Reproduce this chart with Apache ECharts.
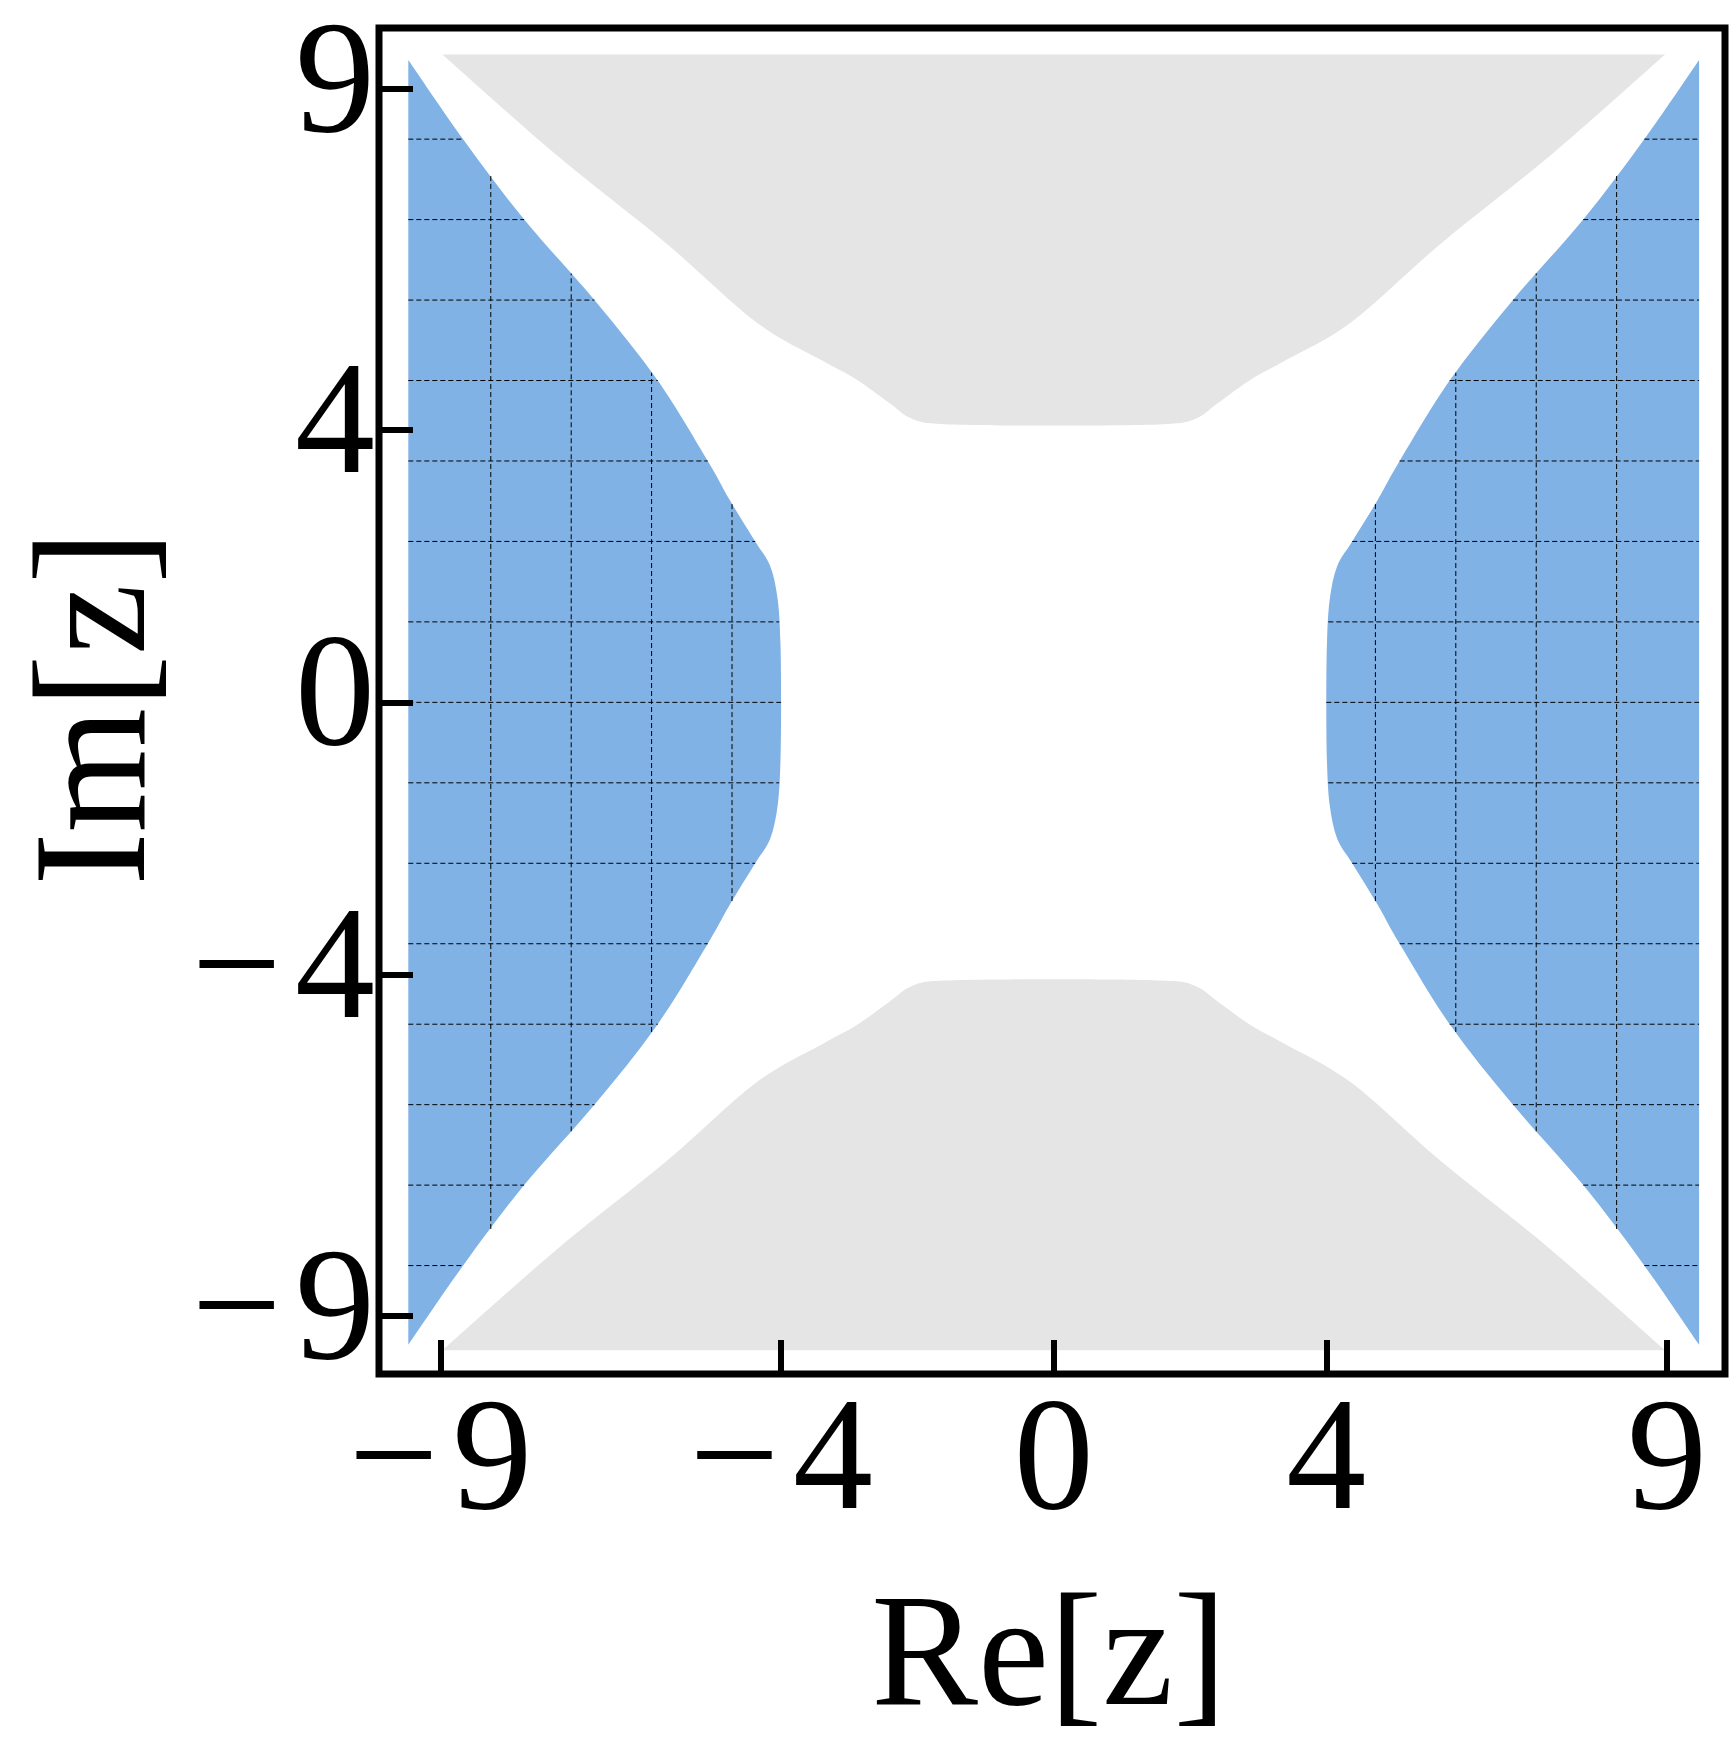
<!DOCTYPE html>
<html>
<head>
<meta charset="utf-8">
<script src="https://cdn.jsdelivr.net/npm/echarts@6/dist/echarts.min.js"></script>
<style>
  html, body { margin: 0; padding: 0; background: #fff; }
  #main { width: 1730px; height: 1743px; }
</style>
</head>
<body>
<div id="main"></div>
<script>
// tick values shown on both axes
const tickValues = [-9, -4, 0, 4, 9];

// inner edge of the blue regions (upper half, mirrored to the other quadrants)
const blueEdgeY = [0, 0.88, 1.51, 2.00, 2.36, 2.98, 3.53, 4.72, 5.89, 7.08, 8.25, 9.42];
const blueEdgeX = [4.00, 4.01, 4.05, 4.16, 4.38, 4.76, 5.07, 5.81, 6.73, 7.77, 8.66, 9.47];

// lower edge of the grey regions (right half, mirrored)
const greyEdgeX = [0, 1.60, 2.08, 2.41, 2.90, 3.39, 4.37, 5.67, 7.30, 8.97];
const greyEdgeY = [4.06, 4.08, 4.16, 4.39, 4.74, 5.01, 5.58, 6.72, 8.03, 9.50];

// spacing of the dashed mesh inside the blue regions
const meshStep = 1.18;

function interp(xs, ys, v) {
  if (v <= xs[0]) return ys[0];
  for (let i = 1; i < xs.length; i++) {
    if (v <= xs[i]) {
      const t = (v - xs[i - 1]) / (xs[i] - xs[i - 1]);
      return ys[i - 1] + t * (ys[i] - ys[i - 1]);
    }
  }
  return ys[ys.length - 1];
}

const outerX = blueEdgeX[blueEdgeX.length - 1];
const topY = blueEdgeY[blueEdgeY.length - 1];

// mesh segments clipped to the blue regions
const meshLines = [];
for (let k = -8; k <= 8; k++) {
  const y = k * meshStep;
  if (Math.abs(y) >= topY) continue;
  const xe = interp(blueEdgeY, blueEdgeX, Math.abs(y));
  meshLines.push([-outerX, y, -xe, y]);
  meshLines.push([xe, y, outerX, y]);
}
for (let k = 1; k <= 8; k++) {
  const a = k * meshStep;
  if (a <= blueEdgeX[0] || a >= outerX - 0.1) continue;
  const ye = interp(blueEdgeX, blueEdgeY, a);
  meshLines.push([-a, -ye, -a, ye]);
  meshLines.push([a, -ye, a, ye]);
}

function bluePoints(side) {
  const pts = [];
  for (let i = blueEdgeY.length - 1; i >= 0; i--) pts.push([side * blueEdgeX[i], blueEdgeY[i]]);
  for (let i = 1; i < blueEdgeY.length; i++) pts.push([side * blueEdgeX[i], -blueEdgeY[i]]);
  return pts;
}

function greyPoints(side) {
  const pts = [];
  for (let i = greyEdgeX.length - 1; i >= 1; i--) pts.push([-greyEdgeX[i], side * greyEdgeY[i]]);
  for (let i = 0; i < greyEdgeX.length; i++) pts.push([greyEdgeX[i], side * greyEdgeY[i]]);
  return pts;
}

// closed path: smooth curve through the edge points, straight closing side
function smoothClosedPath(px) {
  let d = 'M' + px[0][0] + ' ' + px[0][1];
  for (let i = 0; i < px.length - 1; i++) {
    const p0 = px[Math.max(i - 1, 0)], p1 = px[i], p2 = px[i + 1], p3 = px[Math.min(i + 2, px.length - 1)];
    const c1 = [p1[0] + (p2[0] - p0[0]) / 6, p1[1] + (p2[1] - p0[1]) / 6];
    const c2 = [p2[0] - (p3[0] - p1[0]) / 6, p2[1] - (p3[1] - p1[1]) / 6];
    d += ' C' + c1.join(' ') + ' ' + c2.join(' ') + ' ' + p2.join(' ');
  }
  return d + ' Z';
}

const serif = "'Liberation Serif', 'Times New Roman', serif";
const minus = v => (v < 0 ? '\u2212\u200a' : '') + Math.abs(v);

const chart = echarts.init(document.getElementById('main'), null, { renderer: 'canvas' });

chart.setOption({
  animation: false,
  backgroundColor: '#fff',
  grid: {
    left: 379, top: 28, width: 1346, height: 1346,
    show: true, borderColor: '#000', borderWidth: 7,
    containLabel: false, outerBoundsMode: 'none'
  },
  xAxis: {
    type: 'value', min: -9.90, max: 9.85, z: 10,
    name: 'Re[z]', nameLocation: 'middle', nameGap: 208, nameMoveOverlap: false,
    nameTextStyle: { fontFamily: serif, fontSize: 160, color: '#000', padding: [0, 6, 0, 0] },
    axisLine: { show: false, onZero: false },
    axisTick: { show: true, inside: true, length: 34, customValues: tickValues,
                lineStyle: { color: '#000', width: 6 } },
    axisLabel: { customValues: tickValues, formatter: minus, margin: 12,
                 fontFamily: serif, fontSize: 160, color: '#000' },
    splitLine: { show: false }
  },
  yAxis: {
    type: 'value', min: -9.85, max: 9.89, z: 10,
    name: 'Im[z]', nameLocation: 'middle', nameGap: 197, nameMoveOverlap: false,
    nameTextStyle: { fontFamily: serif, fontSize: 160, color: '#000', padding: [0, 14, 0, 0] },
    axisLine: { show: false, onZero: false },
    axisTick: { show: true, inside: true, length: 34, customValues: tickValues,
                lineStyle: { color: '#000', width: 6 } },
    axisLabel: { customValues: tickValues, formatter: minus, margin: 4,
                 fontFamily: serif, fontSize: 160, color: '#000', padding: [6, 0, 0, 0] },
    splitLine: { show: false }
  },
  series: [
    {
      name: 'grey', type: 'custom', silent: true,
      data: [[1, 0], [-1, 0]],
      renderItem: (params, api) => ({
        type: 'path',
        shape: { pathData: smoothClosedPath(greyPoints(api.value(0)).map(p => api.coord(p))) },
        style: { fill: '#e5e5e5', stroke: null }
      })
    },
    {
      name: 'blue', type: 'custom', silent: true,
      data: [[-1, 0], [1, 0]],
      renderItem: (params, api) => ({
        type: 'path',
        shape: { pathData: smoothClosedPath(bluePoints(api.value(0)).map(p => api.coord(p))) },
        style: { fill: '#80b2e5', stroke: null }
      })
    },
    {
      name: 'mesh', type: 'custom', silent: true,
      data: meshLines,
      renderItem: (params, api) => {
        const a = api.coord([api.value(0), api.value(1)]);
        const b = api.coord([api.value(2), api.value(3)]);
        return {
          type: 'line',
          shape: { x1: a[0], y1: a[1], x2: b[0], y2: b[1] },
          style: { stroke: '#000', lineWidth: 1, lineDash: [5, 3] }
        };
      }
    }
  ]
});
</script>
</body>
</html>
